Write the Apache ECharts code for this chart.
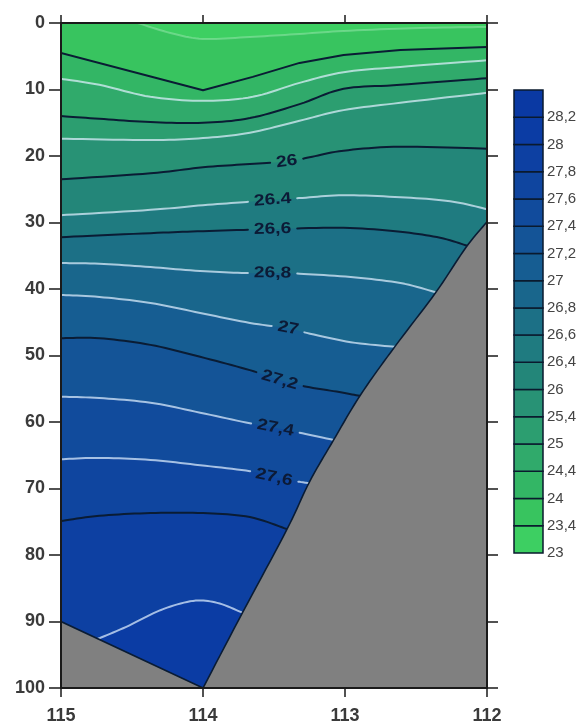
<!DOCTYPE html>
<html>
<head>
<meta charset="utf-8">
<script src="https://cdn.jsdelivr.net/npm/echarts@6/dist/echarts.min.js"></script>
<style>
html,body{margin:0;padding:0;background:#fff;}
#chart{width:581px;height:726px;}
</style>
</head>
<body>
<div id="chart"></div>
<script>
// ---------------- data ----------------
const lonMin = 112, lonMax = 115;
const depthMin = 0, depthMax = 100;

// colour-bar class boundaries and their labels
const bandValues = [23, 23.4, 24, 24.4, 25, 25.4, 26, 26.4, 26.6, 26.8, 27, 27.2, 27.4, 27.6, 27.8, 28, 28.2];
const bandLabels = ['23','23,4','24','24,4','25','25,4','26','26,4','26,6','26,8','27','27,2','27,4','27,6','27,8','28','28,2'];

// contour lines: [longitude, depth]
const c23_4 = [[114.46,0],[114.23,1.5],[114.0,2.4],[113.67,2.1],[113.32,1.65],[113.01,1.2],[112.47,0.75],[112,0.6]];
const c24_0 = [[115,4.5],[114,10.1],[113.65,8.1],[113.32,6.0],[113.01,4.8],[112.61,4.06],[112,3.6]];
const c24_4 = [[115,8.4],[114.73,9.3],[114.37,11.1],[114.0,11.7],[113.65,11.1],[113.32,9.0],[113.01,7.4],[112.61,6.6],[112,5.6]];
const c25_0 = [[115,14.0],[114.73,14.4],[114.37,14.9],[114.0,15.0],[113.67,14.3],[113.32,12.2],[113.01,9.9],[112.61,9.3],[112,8.3]];
const c25_4 = [[115,17.4],[114.37,17.6],[114.0,17.3],[113.67,16.5],[113.32,14.7],[113.01,13.1],[112.61,12.0],[112,10.5]];
const c26_0 = [[115,23.5],[114.37,22.6],[114.0,21.7],[113.67,21.2],[113.40,20.8],[113.25,20.2],[113.01,19.2],[112.61,18.6],[112,18.9]];
const c26_4 = [[115,28.9],[114.37,28.1],[114.0,27.4],[113.69,26.9],[113.51,26.6],[113.30,26.3],[113.01,25.9],[112.61,26.2],[112.26,26.8],[112,28.0]];
const c26_6 = [[115,32.2],[114.37,31.6],[114.0,31.3],[113.51,31.0],[113.01,30.8],[112.61,31.4],[112.33,32.3],[112.14,33.5]];
const c26_8 = [[115,36.1],[114.73,36.2],[114.37,36.7],[114.02,37.3],[113.70,37.6],[113.51,37.6],[113.32,37.7],[112.96,38.2],[112.61,39.1],[112.36,40.5]];
const c27_0 = [[115,40.9],[114.73,41.2],[114.37,42.1],[114.02,43.6],[113.67,45.1],[113.40,45.9],[113.27,46.6],[112.96,48.0],[112.65,48.7]];
const c27_2 = [[115,47.4],[114.73,47.4],[114.37,48.4],[114.02,50.2],[113.67,52.2],[113.46,53.7],[113.27,54.7],[113.04,55.5],[112.89,56.1]];
const c27_4 = [[115,56.2],[114.73,56.4],[114.37,57.1],[114.02,58.6],[113.67,60.2],[113.51,60.8],[113.30,61.7],[113.08,62.7]];
const c27_6 = [[115,65.6],[114.73,65.4],[114.37,65.7],[114.02,66.5],[113.67,67.4],[113.51,68.3],[113.32,69.0],[113.25,69.2]];
const c27_8 = [[115,74.9],[114.73,74.1],[114.37,73.7],[114.0,73.7],[113.67,74.3],[113.41,76.1]];
const c28_0 = [[114.74,92.6],[114.54,90.8],[114.30,88.3],[114.07,86.9],[113.90,87.2],[113.73,88.6]];

const contourLines = [c23_4, c24_0, c24_4, c25_0, c25_4, c26_0, c26_4, c26_6, c26_8, c27_0, c27_2, c27_4, c27_6, c27_8, c28_0];
const contourLabels = ['', '', '', '', '', '26', '26.4', '26,6', '26,8', '27', '27,2', '27,4', '27,6', '', ''];
const labelLon = [null, null, null, null, null, 113.41, 113.51, 113.51, 113.51, 113.40, 113.46, 113.49, 113.50, null, null];

// sea floor: left slope and right slope [longitude, depth]
const floorLeft = [[115,90],[114,100]];
const floorRight = [[114,100],[113.72,88.6],[113.41,76.2],[113.25,69.0],[113.08,62.7],[112.89,55.9],[112.65,48.7],[112.36,40.5],[112.15,33.8],[112,29.9]];

// ---------------- styles ----------------
const bandColors = ['#3dcf62','#38c45f','#33b665','#30aa6b','#2c9e70','#289275','#238679','#1f7b80','#1c7086','#19668c','#165d92','#145497','#114b9c','#0f459f','#0d40a2','#0b3ca4','#0a39a3'];
const lineKinds = ['faint','dark','light','dark','light','dark','light','dark','light','light','dark','light','light','dark','light'];
const lineSmooth = [true, false, true, true, true, true, true, true, true, true, true, true, true, true, true];
const kindStyle = {
  faint: {stroke: 'rgba(235,255,240,0.28)', lineWidth: 2},
  dark:  {stroke: '#0a1c34', lineWidth: 2},
  light: {stroke: 'rgba(225,240,255,0.72)', lineWidth: 2}
};
const seaColor = '#808080';
const labelFont = 'Liberation Sans';
const labelSize = 16;
const labelStretch = 1.2;

// ---------------- helpers ----------------
function catmull(p, steps) {
  if (p.length < 3) return p.slice();
  const out = [p[0]];
  for (let i = 0; i < p.length - 1; i++) {
    const p0 = p[Math.max(0, i-1)], p1 = p[i], p2 = p[i+1], p3 = p[Math.min(p.length-1, i+2)];
    for (let s = 1; s <= steps; s++) {
      const t = s / steps, t2 = t*t, t3 = t2*t;
      const f = (a, b, c, d) => 0.5 * ((2*b) + (-a + c)*t + (2*a - 5*b + 4*c - d)*t2 + (-a + 3*b - 3*c + d)*t3);
      out.push([f(p0[0], p1[0], p2[0], p3[0]), f(p0[1], p1[1], p2[1], p3[1])]);
    }
  }
  return out;
}
function pixelLine(k, api) {
  const raw = contourLines[k].map(p => api.coord(p));
  return lineSmooth[k] ? catmull(raw, 10) : raw;
}
function textWidth(t, size) {
  let w = 0;
  for (const ch of t) w += (ch === ',' || ch === '.') ? 0.278 * size : 0.556 * size;
  return w;
}
function cumLengths(p) {
  const c = [0];
  for (let i = 1; i < p.length; i++) c.push(c[i-1] + Math.hypot(p[i][0]-p[i-1][0], p[i][1]-p[i-1][1]));
  return c;
}
function pointAt(p, c, s) {
  if (s <= 0) return p[0].slice();
  for (let i = 1; i < p.length; i++) {
    if (s <= c[i]) {
      const t = (s - c[i-1]) / ((c[i] - c[i-1]) || 1);
      return [p[i-1][0] + t*(p[i][0]-p[i-1][0]), p[i-1][1] + t*(p[i][1]-p[i-1][1])];
    }
  }
  return p[p.length-1].slice();
}
function subPath(p, c, s1, s2) {
  const out = [pointAt(p, c, s1)];
  for (let i = 0; i < p.length; i++) if (c[i] > s1 && c[i] < s2) out.push(p[i]);
  out.push(pointAt(p, c, s2));
  return out;
}

// ---------------- render functions ----------------
function renderFill(params, api) {
  const k = params.dataIndex;
  let poly;
  if (k === 0) {
    poly = [[lonMax, depthMin],[lonMin, depthMin],[lonMin, depthMax],[lonMax, depthMax]].map(p => api.coord(p));
  } else {
    const line = contourLines[k-1];
    const last = line[line.length-1];
    poly = pixelLine(k-1, api).concat([[last[0], depthMax],[lonMax, depthMax],[lonMax, line[0][1]]].map(p => api.coord(p)));
  }
  return {type: 'polygon', shape: {points: poly}, style: {fill: bandColors[k], stroke: null}};
}

function renderSea(params, api) {
  const left = floorLeft.map(p => api.coord(p));
  const right = catmull(floorRight.map(p => api.coord(p)), 10);
  const outline = left.concat(right.slice(1));
  const pts = outline.concat([[lonMin, depthMax],[lonMax, depthMax]].map(p => api.coord(p)));
  return {type: 'group', children: [
    {type: 'polygon', shape: {points: pts}, style: {fill: seaColor, stroke: null}},
    {type: 'polyline', shape: {points: outline}, style: {stroke: '#0a1c34', lineWidth: 1.6, fill: null, lineJoin: 'round'}}
  ]};
}

function renderContour(params, api) {
  const k = params.dataIndex;
  const pts = pixelLine(k, api);
  const st = kindStyle[lineKinds[k]];
  const children = [];
  const lab = contourLabels[k];
  const ls = {stroke: st.stroke, lineWidth: st.lineWidth, fill: null, lineJoin: 'round', lineCap: 'round'};
  if (!lab) {
    children.push({type: 'polyline', shape: {points: pts}, style: ls});
  } else {
    const c = cumLengths(pts);
    const px = api.coord([labelLon[k], depthMin])[0];
    let s0 = 0;
    for (let i = 1; i < pts.length; i++) {
      if (px >= pts[i-1][0] && px <= pts[i][0]) {
        const t = (px - pts[i-1][0]) / ((pts[i][0]-pts[i-1][0]) || 1);
        s0 = c[i-1] + t * (c[i]-c[i-1]);
        break;
      }
    }
    const g = textWidth(lab, labelSize) * labelStretch / 2 + 6;
    const total = c[c.length-1];
    children.push({type: 'polyline', shape: {points: subPath(pts, c, 0, s0 - g)}, style: ls});
    if (s0 + g < total) children.push({type: 'polyline', shape: {points: subPath(pts, c, s0 + g, total)}, style: ls});
    const pa = pointAt(pts, c, s0 - g), pb = pointAt(pts, c, s0 + g), pc = pointAt(pts, c, s0);
    const ang = Math.atan2(pb[1]-pa[1], pb[0]-pa[0]);
    children.push({type: 'text', x: pc[0], y: pc[1], rotation: -ang, scaleX: labelStretch,
      style: {text: lab, fill: '#0c1a36', fontSize: labelSize, fontFamily: labelFont, fontWeight: 'bold', align: 'center', verticalAlign: 'middle'}});
  }
  return {type: 'group', children: children};
}

function renderBar(params, api) {
  const i = params.dataIndex;
  const a = api.coord([0, i]);
  const b = api.coord([1, i + 1]);
  return {type: 'rect', shape: {x: Math.min(a[0], b[0]), y: Math.min(a[1], b[1]), width: Math.abs(b[0]-a[0]), height: Math.abs(b[1]-a[1])},
    style: {fill: bandColors[i], stroke: '#0a1a2e', lineWidth: 1.5}};
}

// ---------------- chart ----------------
const axisColor = '#1a1a1a';
const tickFont = {fontSize: 18, color: '#3a3a3a', fontFamily: 'Liberation Sans', fontWeight: 'bold'};
const chart = echarts.init(document.getElementById('chart'), null, {renderer: 'canvas'});
chart.setOption({
  animation: false,
  backgroundColor: '#ffffff',
  grid: [
    {left: 61, right: 94, top: 23, bottom: 38},
    {left: 514, right: 38, top: 90, bottom: 173}
  ],
  xAxis: [
    {gridIndex: 0, type: 'value', min: lonMin, max: lonMax, interval: 1, inverse: true, position: 'bottom', z: 10,
      axisLine: {show: true, onZero: false, lineStyle: {color: axisColor, width: 2}},
      axisTick: {show: true, length: 9, lineStyle: {color: axisColor, width: 1.5}},
      axisLabel: Object.assign({show: true, margin: 19}, tickFont),
      splitLine: {show: false}},
    {gridIndex: 0, type: 'value', min: lonMin, max: lonMax, interval: 1, inverse: true, position: 'top', z: 10,
      axisLine: {show: true, onZero: false, lineStyle: {color: axisColor, width: 2}},
      axisTick: {show: true, length: 8, lineStyle: {color: axisColor, width: 1.5}},
      axisLabel: {show: false}, splitLine: {show: false}},
    {gridIndex: 1, type: 'value', min: 0, max: 1, show: false}
  ],
  yAxis: [
    {gridIndex: 0, type: 'value', min: depthMin, max: depthMax, interval: 10, inverse: true, position: 'left', z: 10,
      axisLine: {show: true, onZero: false, lineStyle: {color: axisColor, width: 2}},
      axisTick: {show: true, length: 12, lineStyle: {color: axisColor, width: 1.5}},
      axisLabel: Object.assign({show: true, margin: 16}, tickFont),
      splitLine: {show: false}},
    {gridIndex: 0, type: 'value', min: depthMin, max: depthMax, interval: 10, inverse: true, position: 'right', z: 10,
      axisLine: {show: true, onZero: false, lineStyle: {color: axisColor, width: 2}},
      axisTick: {show: true, length: 11, lineStyle: {color: axisColor, width: 1.5}},
      axisLabel: {show: false}, splitLine: {show: false}},
    {gridIndex: 1, type: 'value', min: 0, max: bandValues.length, interval: 1, position: 'right',
      axisLine: {show: false}, axisTick: {show: false}, splitLine: {show: false},
      axisLabel: {show: true, margin: 4, fontSize: 15, color: '#444', fontFamily: 'Liberation Sans',
        formatter: v => (v < bandLabels.length ? bandLabels[v] : '')}}
  ],
  series: [
    {type: 'custom', name: 'fill', xAxisIndex: 0, yAxisIndex: 0, clip: true, silent: true,
      data: bandColors.slice(0, contourLines.length + 1).map((_, i) => i), renderItem: renderFill, z: 1},
    {type: 'custom', name: 'contours', xAxisIndex: 0, yAxisIndex: 0, clip: true, silent: true,
      data: contourLines.map((_, i) => i), renderItem: renderContour, z: 2},
    {type: 'custom', name: 'seafloor', xAxisIndex: 0, yAxisIndex: 0, clip: true, silent: true,
      data: [0], renderItem: renderSea, z: 3},
    {type: 'custom', name: 'colorbar', xAxisIndex: 2, yAxisIndex: 2, silent: true,
      data: bandValues.map((_, i) => i), renderItem: renderBar, z: 2}
  ]
});
</script>
</body>
</html>
